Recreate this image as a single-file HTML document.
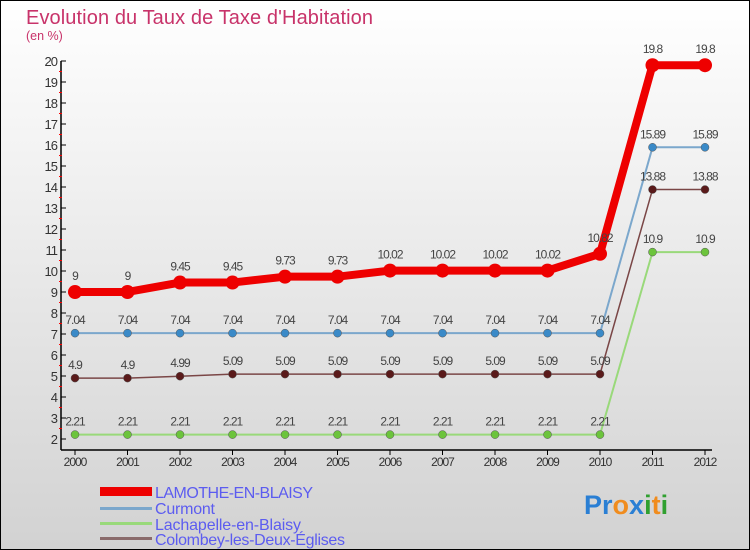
<!DOCTYPE html>
<html><head><meta charset="utf-8"><style>
html,body{margin:0;padding:0;}
body{width:750px;height:550px;overflow:hidden;font-family:"Liberation Sans",sans-serif;}
</style></head><body>
<svg id="chart" width="750" height="550" xmlns="http://www.w3.org/2000/svg" style="display:block">
<defs><linearGradient id="bg" x1="0" y1="0" x2="0" y2="1"><stop offset="0" stop-color="#ffffff"/><stop offset="1" stop-color="#d2d2d2"/></linearGradient></defs>
<rect x="0.5" y="0.5" width="749" height="549" fill="url(#bg)" stroke="#000"/>
<text x="26" y="24" font-size="20" fill="#c8336a" textLength="347">Evolution du Taux de Taxe d'Habitation</text>
<text x="26" y="40" font-size="12.5" fill="#c8336a">(en %)</text>
<g id="axes"></g><g id="series"></g><g id="labels"></g>
<g font-size="16" fill="#5c5cf0">
<rect x="100" y="487" width="52" height="9" fill="#e00"/>
<text x="155" y="498" textLength="158">LAMOTHE-EN-BLAISY</text>
<rect x="100" y="507" width="52" height="3" fill="#7ba7cc"/>
<text x="155" y="514" textLength="60">Curmont</text>
<rect x="100" y="522" width="52" height="3" fill="#99d97a"/>
<text x="155" y="530" textLength="146">Lachapelle-en-Blaisy</text>
<rect x="100" y="537" width="52" height="3" fill="#8a6b6b"/>
<text x="155" y="545" textLength="190">Colombey-les-Deux-Églises</text>
</g>
<g font-size="27" font-weight="bold">
<text x="584" y="514"><tspan fill="#2a7fd4">Pr</tspan><tspan fill="#f08c1e">o</tspan><tspan fill="#2a7fd4">x</tspan><tspan fill="#30a030">i</tspan><tspan fill="#f08c1e">t</tspan><tspan fill="#30a030">i</tspan></text>
</g>
</svg>
<script>
const years=[2000,2001,2002,2003,2004,2005,2006,2007,2008,2009,2010,2011,2012];
const lamothe=[9,9,9.45,9.45,9.73,9.73,10.02,10.02,10.02,10.02,10.82,19.8,19.8];
const curmont=[7.04,7.04,7.04,7.04,7.04,7.04,7.04,7.04,7.04,7.04,7.04,15.89,15.89];
const lachapelle=[2.21,2.21,2.21,2.21,2.21,2.21,2.21,2.21,2.21,2.21,2.21,10.9,10.9];
const colombey=[4.9,4.9,4.99,5.09,5.09,5.09,5.09,5.09,5.09,5.09,5.09,13.88,13.88];
const yTicks=[2,3,4,5,6,7,8,9,10,11,12,13,14,15,16,17,18,19,20];
const NS="http://www.w3.org/2000/svg";
const X=i=>75+i*52.5, Y=v=>439-(v-2)*21;
function mk(t,a,p){const e=document.createElementNS(NS,t);for(const k in a)e.setAttribute(k,a[k]);p.appendChild(e);return e;}
const ax=document.getElementById('axes');
const yl=mk('line',{x1:61,y1:61,x2:61,y2:450,stroke:'#000','stroke-width':1.5},ax);


const xl=mk('line',{x1:61,y1:450,x2:712,y2:450,stroke:'#000','stroke-width':1.5},ax);


yTicks.forEach(v=>{
  mk('line',{x1:61,y1:Y(v),x2:66,y2:Y(v),stroke:'#000'},ax);
  if(v<20) mk('line',{x1:59,y1:Y(v+0.5),x2:62,y2:Y(v+0.5),stroke:'#f00'},ax);
  const t=mk('text',{x:57,y:Y(v)+5,'font-size':13,fill:'#333','text-anchor':'end','letter-spacing':'-1'},ax);
  t.textContent=v;
  
  
});
years.forEach((yr,i)=>{
  mk('line',{x1:X(i),y1:450,x2:X(i),y2:455,stroke:'#000'},ax);
  const t=mk('text',{x:X(i),y:466,'font-size':12,fill:'#333','text-anchor':'middle','letter-spacing':'-1'},ax);
  t.textContent=yr;
  
  
});
const sg=document.getElementById('series'), lg=document.getElementById('labels');
function series(vals,name,col,dot,w,r){
  const g=mk('g',{},sg);
  
  
  mk('polyline',{points:vals.map((v,i)=>X(i)+','+Y(v)).join(' '),fill:'none',stroke:col,'stroke-width':w,'stroke-linejoin':'round'},g);
  vals.forEach((v,i)=>{
    const c=mk('circle',{cx:X(i),cy:Y(v),r:r,fill:dot,stroke:r>4?'none':'#555','stroke-width':0.5},g);
    
    
    const t=mk('text',{x:X(i),y:Y(v)-(r>4?12:9),'font-size':12,fill:'#444','text-anchor':'middle','letter-spacing':'-1'},lg);
    t.textContent=v;
    
    
  });
}
series(lachapelle,'lachapelle','#99d97a','#6cc43c',2,4);
series(colombey,'colombey','#7a4646','#5a1a1a',1.5,4);
series(curmont,'curmont','#7ba7cc','#3a8ac8',2,4);
series(lamothe,'lamothe','#ee0000','#ee0000',8,7);
</script>
</body></html>
